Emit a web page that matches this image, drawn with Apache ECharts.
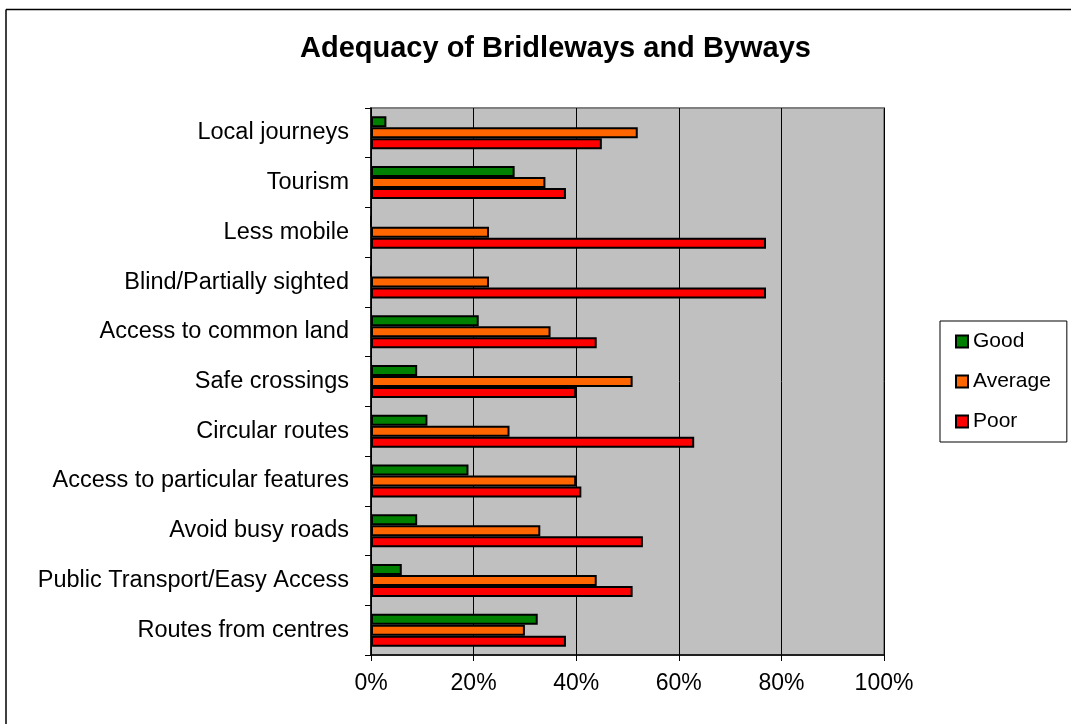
<!DOCTYPE html>
<html>
<head>
<meta charset="utf-8">
<script src="https://cdn.jsdelivr.net/npm/echarts@6/dist/echarts.min.js"></script>
<style>html,body{margin:0;padding:0;background:#fff;}#c{width:1071px;height:724px;}</style>
</head>
<body>
<div id="c"></div>
<script>
const categories = ["Local journeys","Tourism","Less mobile","Blind/Partially sighted","Access to common land","Safe crossings","Circular routes","Access to particular features","Avoid busy roads","Public Transport/Easy Access","Routes from centres"];
const good    = [3, 28, 0, 0, 21, 9, 11, 19, 9, 6, 32.5];
const average = [52, 34, 23, 23, 35, 51, 27, 40, 33, 44, 30];
const poor    = [45, 38, 77, 77, 44, 40, 63, 41, 53, 51, 38];
const xTicks = [0, 20, 40, 60, 80, 100];

const font = 'Liberation Sans, Arial, sans-serif';
const chart = echarts.init(document.getElementById('c'), null, {renderer: 'canvas'});
function bar(name, data, color) {
  return {
    name: name, type: 'bar', data: data, barWidth: 11, barGap: '0%',
    itemStyle: {color: color, borderColor: '#000', borderWidth: 2},
    emphasis: {disabled: true}, animation: false
  };
}
chart.setOption({
  animation: false,
  backgroundColor: '#fff',
  title: {
    text: 'Adequacy of Bridleways and Byways', left: 300, top: 34, padding: 0,
    textStyle: {fontFamily: font, fontSize: 29, fontWeight: 'bold', color: '#000'}
  },
  grid: {
    left: 371, right: 187, top: 108, bottom: 69, show: true,
    backgroundColor: '#C0C0C0', borderColor: '#808080', borderWidth: 2
  },
  legend: {
    orient: 'vertical', left: 940, top: 321,
    padding: [10, 16, 10, 15], itemGap: 19, itemWidth: 12, itemHeight: 12,
    borderColor: '#000', borderWidth: 1, icon: 'rect',
    textStyle: {fontFamily: font, fontSize: 21, color: '#000'},
    data: ['Good', 'Average', 'Poor']
  },
  xAxis: {
    type: 'value', min: 0, max: 100, interval: 20,
    axisLine: {show: true, lineStyle: {color: '#000', width: 1.5}},
    axisTick: {show: true, length: 6, lineStyle: {color: '#000'}},
    axisLabel: {formatter: '{value}%', fontFamily: font, fontSize: 23, color: '#000', margin: 17,
      customValues: xTicks},
    splitLine: {show: true, lineStyle: {color: '#000', width: 1}}
  },
  yAxis: {
    type: 'category', data: categories, inverse: true,
    axisLine: {show: true, lineStyle: {color: '#000', width: 1.5}},
    axisTick: {show: true, length: 6, lineStyle: {color: '#000'}},
    axisLabel: {fontFamily: font, fontSize: 23.5, color: '#000', margin: 22},
    splitLine: {show: false}
  },
  series: [
    bar('Good', good, '#008000'),
    bar('Average', average, '#FF6600'),
    bar('Poor', poor, '#FF0000')
  ],
  graphic: [
    {type: 'line', shape: {x1: 6, y1: 9.5, x2: 1071, y2: 9.5}, style: {stroke: '#000', lineWidth: 1.5}, silent: true},
    {type: 'line', shape: {x1: 6, y1: 9.5, x2: 6, y2: 724}, style: {stroke: '#000', lineWidth: 1.5}, silent: true}
  ]
});
</script>
</body>
</html>
